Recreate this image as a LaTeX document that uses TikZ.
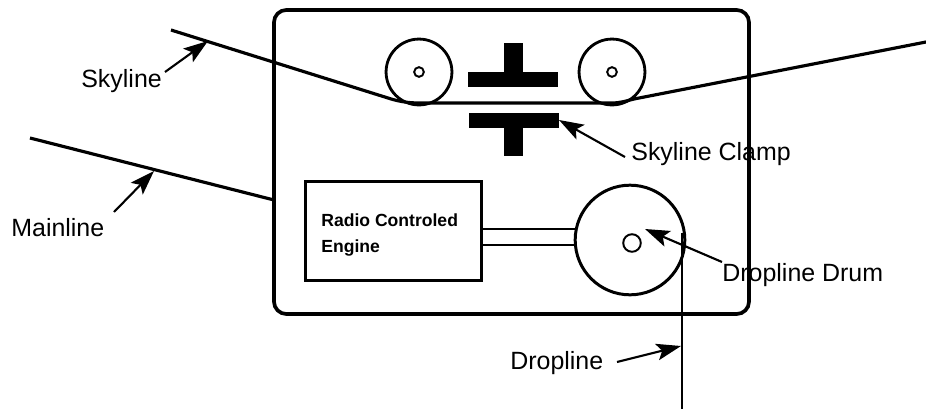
\documentclass[tikz,border=0pt]{standalone}
\usepackage{fontspec}
\setmainfont{Liberation Sans}
\usetikzlibrary{arrows.meta}
\tikzset{
	cable/.style={line width=1.8pt, line join=round},
	pointer/.style={line width=1.2pt, -{Stealth[length=14pt, width=9.5pt, inset=3pt]}},
	roller/.style={circle, draw, line width=1.6pt, minimum size=37.5pt, inner sep=0pt},
	hub/.style={circle, draw, line width=1.1pt, inner sep=0pt},
	lbl/.style={draw=none, anchor=west, inner sep=0pt, font=\fontsize{14.2}{17}\selectfont}
}
\begin{document}
\begin{tikzpicture}[x=0.02cm, y=-0.02cm]
	\useasboundingbox (0,0) rectangle (926,419);
	% Labels
	\node[lbl] (skylinelbl) at (81,81) {Skyline};
	\node[lbl] (mainlinelbl) at (11,228) {Mainline};
	\node[lbl] (clamplbl) at (631,154) {Skyline Clamp};
	\node[lbl] (drumlbl) at (722,275) {Dropline Drum};
	\node[lbl] (droplinelbl) at (510,363) {Dropline};

	% Carriage
	\draw[line width=2.1pt, rounded corners=7pt] (274,10) rectangle (749,314);

	% Rollers
	\node[roller] (rollera) at (419,72) {};
	\node[roller] (rollerb) at (612,72) {};
	\node[hub, minimum size=5.5pt] (huba) at (419,72) {};
	\node[hub, minimum size=5.5pt] (hubb) at (612,72) {};

	% Skyline
	\coordinate (skyin) at (171,30);
	\coordinate (skyout) at (926,42);
	\draw[cable] (skyin) -- (388,98) .. controls (400,102) and (410,103) .. (420,103)
		-- (612,103) .. controls (620,103) and (626,101) .. (634,99) -- (skyout);

	% Skyline clamp
	\fill (468,72) rectangle (558,87);
	\fill (504,43) rectangle (523,72);
	\fill (469,113) rectangle (559,128);
	\fill (504,128) rectangle (523,156);

	% Mainline
	\coordinate (mainin) at (30,138);
	\coordinate (mainout) at (274,200);
	\draw[cable] (mainin) -- (mainout);

	% Engine and drum
	\node[draw, line width=1.6pt, minimum width=100pt, minimum height=56.7pt, inner sep=0pt] (engine) at (393.5,231) {};
	\node[draw=none, anchor=west, align=left, inner sep=0pt, font=\fontsize{10}{14.5}\selectfont\bfseries] (enginelbl) at (321,235) {Radio Controled\\Engine};
	\node[circle, draw, line width=1.7pt, minimum size=62.4pt, inner sep=0pt] (drum) at (630,240) {};
	\node[hub, minimum size=10pt] (drumhub) at (632,243) {};
	\coordinate (shafta) at (482,229);
	\coordinate (shaftb) at (575,229);
	\coordinate (shaftc) at (482,245);
	\coordinate (shaftd) at (575,245);
	\draw[line width=1.5pt] (shafta) -- (shaftb);
	\draw[line width=1.5pt] (shaftc) -- (shaftd);

	% Dropline
	\coordinate (droptop) at (682,233);
	\coordinate (dropend) at (682,409);
	\draw[line width=1.3pt] (droptop) -- (dropend);

	% Arrows
	\coordinate (skytip) at (208,41);
	\coordinate (skytail) at (165,72);
	\coordinate (maintip) at (154,171);
	\coordinate (maintail) at (114,212);
	\coordinate (clamptip) at (559,120);
	\coordinate (clamptail) at (625,157);
	\coordinate (drumtip) at (645,229);
	\coordinate (drumtail) at (722,262);
	\coordinate (droptip) at (681,346);
	\coordinate (droptail) at (617,362);
	\draw[pointer] (skytail) -- (skytip);
	\draw[pointer] (maintail) -- (maintip);
	\draw[pointer] (clamptail) -- (clamptip);
	\draw[pointer] (drumtail) -- (drumtip);
	\draw[pointer] (droptail) -- (droptip);
\end{tikzpicture}
\end{document}
